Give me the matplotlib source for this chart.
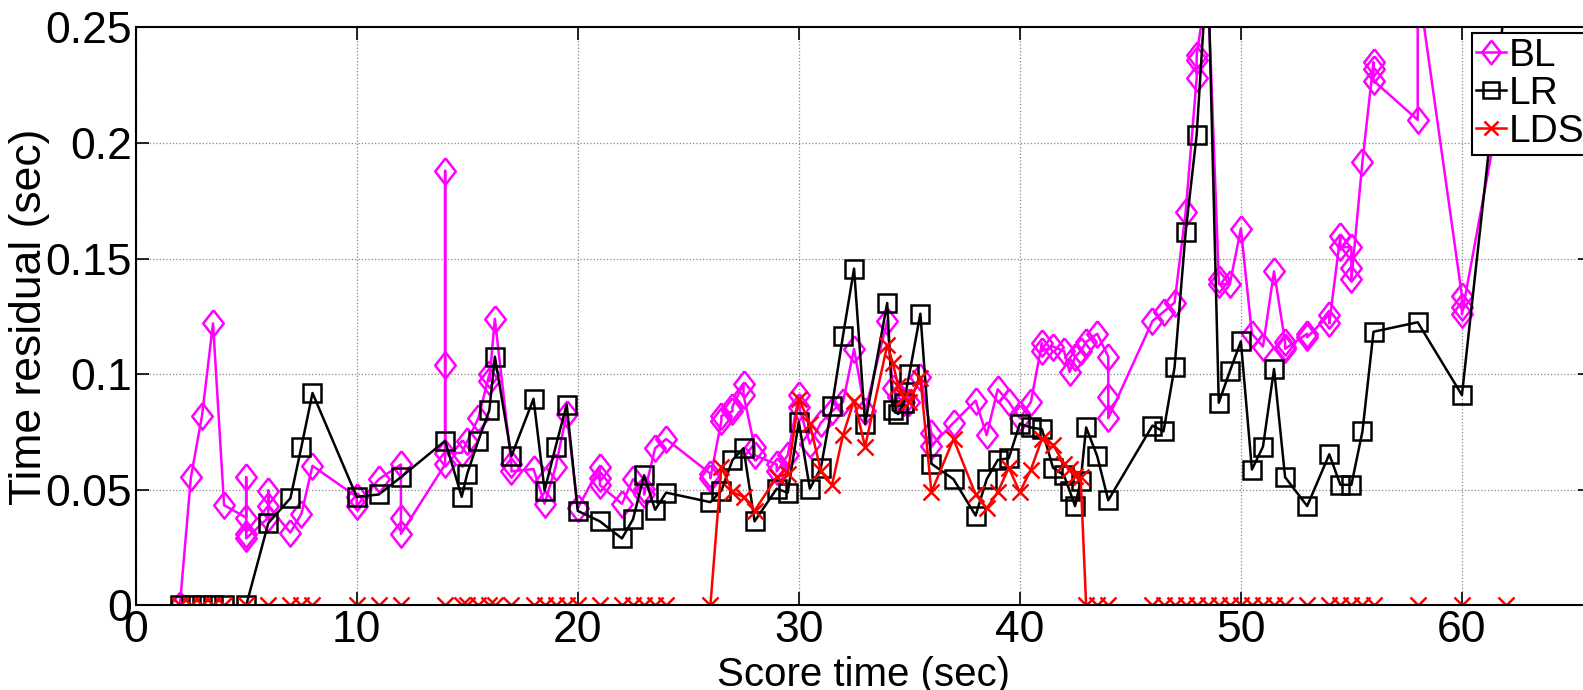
import matplotlib

matplotlib.use("Agg")
import matplotlib.pyplot as plt
from matplotlib import font_manager

plt.rcParams["font.family"] = ["Liberation Sans", "DejaVu Sans"]

# score times (sec) and residuals per method; repeated times are chord notes
bl_t = [2, 2.5, 3, 3.5, 4, 5, 5, 5, 5, 6, 6, 6, 7, 7.5, 8, 10, 10, 11, 12, 12, 12,
        14, 14, 14, 14, 14.75, 15, 15.5, 16, 16, 16.25, 17, 17, 18, 18.5, 19, 19.5,
        20, 21, 21, 21, 22, 22.5, 23, 23, 23.5, 24, 26, 26, 26.5, 26.5, 27, 27,
        27.5, 27.5, 28, 28, 29, 29, 29.5, 30, 30, 30.5, 31, 31.5, 32, 32.5, 33,
        34, 34.25, 34.5, 34.75, 35, 35.5, 36, 36, 37, 38, 38.5, 39, 39.5, 40, 40.5,
        41, 41, 41.5, 42, 42.25, 42.5, 42.75, 43, 43.5, 44, 44, 44, 46, 46.5, 47,
        47.5, 48, 48, 48, 48.5, 49, 49, 49.5, 50, 50.5, 51, 51.5, 52, 52, 52, 53,
        53, 54, 54, 54.5, 54.5, 55, 55, 55, 55.5, 56, 56, 56, 58, 58, 60, 60, 60, 62]
bl_v = [0.0, 0.0555, 0.082, 0.122, 0.0434, 0.038, 0.0555, 0.031, 0.029, 0.038,
        0.0497, 0.043, 0.0315, 0.0397, 0.0604, 0.047, 0.043, 0.0546, 0.061, 0.038,
        0.031, 0.061, 0.188, 0.104, 0.066, 0.066, 0.071, 0.081, 0.1, 0.097, 0.124,
        0.061, 0.058, 0.059, 0.044, 0.06, 0.083, 0.042, 0.06, 0.055, 0.052, 0.044,
        0.0546, 0.0505, 0.048, 0.068, 0.072, 0.057, 0.055, 0.08, 0.082, 0.084,
        0.086, 0.096, 0.091, 0.0687, 0.065, 0.061, 0.058, 0.065, 0.091, 0.086,
        0.07, 0.079, 0.084, 0.088, 0.111, 0.084, 0.123, 0.094, 0.09, 0.088, 0.088,
        0.099, 0.0745, 0.069, 0.079, 0.0886, 0.0737, 0.0935, 0.088, 0.081, 0.088,
        0.1134, 0.11, 0.112, 0.11, 0.101, 0.1076, 0.11, 0.114, 0.1175, 0.1076,
        0.09, 0.081, 0.123, 0.127, 0.131, 0.17, 0.228, 0.236, 0.238, 0.27, 0.141,
        0.139, 0.139, 0.163, 0.1175, 0.112, 0.1445, 0.114, 0.112, 0.111, 0.1175,
        0.116, 0.1258, 0.122, 0.16, 0.155, 0.155, 0.146, 0.141, 0.192, 0.235,
        0.232, 0.227, 0.21, 0.27, 0.134, 0.129, 0.126, 0.23]

lr_t = [2, 2.5, 3, 3.5, 4, 5, 6, 7, 7.5, 8, 10, 11, 12, 14, 14.75, 15, 15.5, 16,
        16.25, 17, 18, 18.5, 19, 19.5, 20, 21, 22, 22.5, 23, 23.5, 24, 26, 26.5,
        27, 27.5, 28, 29, 29.5, 30, 30.5, 31, 31.5, 32, 32.5, 33, 34, 34.25, 34.5,
        34.75, 35, 35.5, 36, 37, 38, 38.5, 39, 39.5, 40, 40.5, 41, 41.5, 42, 42.25,
        42.5, 42.75, 43, 43.5, 44, 46, 46.5, 47, 47.5, 48, 48.5, 49, 49.5, 50, 50.5,
        51, 51.5, 52, 53, 54, 54.5, 55, 55.5, 56, 58, 60, 62]
lr_v = [0, 0, 0, 0, 0, 0, 0.0356, 0.0464, 0.0687, 0.0919, 0.047, 0.048, 0.0555,
        0.0712, 0.047, 0.057, 0.0712, 0.0844, 0.1076, 0.0646, 0.0894, 0.0497,
        0.0687, 0.0869, 0.0409, 0.0364, 0.029, 0.0373, 0.0563, 0.0414, 0.0488,
        0.0447, 0.0497, 0.0629, 0.068, 0.0364, 0.0505, 0.0488, 0.0795, 0.0505,
        0.0596, 0.0861, 0.1167, 0.1457, 0.0786, 0.1308, 0.0844, 0.0828, 0.0877,
        0.1, 0.1262, 0.0613, 0.0546, 0.0389, 0.0546, 0.0629, 0.0637, 0.0786, 0.077,
        0.0762, 0.0596, 0.0563, 0.0497, 0.043, 0.0538, 0.077, 0.0646, 0.0455,
        0.0778, 0.0753, 0.103, 0.1614, 0.2036, 0.28, 0.0877, 0.1013, 0.1142,
        0.0588, 0.0687, 0.1023, 0.0555, 0.043, 0.0654, 0.0522, 0.0522, 0.0753,
        0.1184, 0.1225, 0.091, 0.265]

lds_t = lr_t
lds_v = [0] * 32 + [
    0.060, 0.049, 0.047, 0.041, 0.0555, 0.057, 0.0894, 0.0786, 0.058, 0.052,
    0.0737, 0.0886, 0.0687, 0.1126, 0.105, 0.095, 0.09, 0.088, 0.0985, 0.049,
    0.072, 0.048, 0.042, 0.049, 0.0596, 0.049, 0.0588, 0.072, 0.0695, 0.0613,
    0.059, 0.056, 0.0555] + [0] * 25

x_ticks = [0, 10, 20, 30, 40, 50, 60]
y_ticks = [0, 0.05, 0.1, 0.15, 0.2, 0.25]
x_labels = ["0", "10", "20", "30", "40", "50", "60"]
y_labels = ["0", "0.05", "0.1", "0.15", "0.2", "0.25"]

# tick numbers are set in a narrow face when one is installed
installed = {f.name for f in font_manager.fontManager.ttflist}
if "Liberation Sans Narrow" in installed:
    tick_font = {"family": "Liberation Sans Narrow", "size": 36}
else:
    tick_font = {"family": "Liberation Sans", "size": 32}

# tall diamond, a bit narrower than high
diamond = [(0, 1), (0.78, 0), (0, -1), (-0.78, 0), (0, 1)]

fig = plt.figure(figsize=(15.83, 6.9), dpi=100)
# right spine sits just past the canvas edge
ax = fig.add_axes([0.0857, 0.1225, 0.9195, 0.8377])

ax.plot(bl_t, bl_v, color="#ff00ff", lw=1.8, marker=diamond, ms=19, mfc="none",
        mew=1.8, label="BL")
ax.plot(lr_t, lr_v, color="black", lw=1.8, marker="s", ms=12.5, mfc="none",
        mew=1.8, label="LR")
ax.plot(lds_t, lds_v, color="red", lw=1.8, marker="x", ms=11, mew=1.8,
        label="LDS")

ax.set_xlim(0, 65.85)
ax.set_ylim(0, 0.25)
ax.set_xticks(x_ticks, labels=x_labels, fontfamily=tick_font["family"],
              fontsize=tick_font["size"])
ax.set_yticks(y_ticks, labels=y_labels, fontfamily=tick_font["family"],
              fontsize=tick_font["size"])
ax.grid(True, linestyle=":", color="#888888", lw=0.9)
ax.tick_params(direction="in", length=9.5, width=1.2, top=True, right=True)
ax.tick_params(axis="x", pad=3.2)
ax.tick_params(axis="y", pad=2.7)
for s in ax.spines.values():
    s.set_linewidth(1.5)

ax.set_xlabel("Score time (sec)", fontsize=29)
ax.set_ylabel("Time residual (sec)", fontsize=32)
ax.xaxis.set_label_coords(0.5, -0.088)
ax.yaxis.set_label_coords(-0.059, 0.5)

leg = ax.legend(loc="upper left", bbox_to_anchor=(1471.7 / 1583, 1 - 33.4 / 690),
                bbox_transform=fig.transFigure, borderaxespad=0, fontsize=28,
                handlelength=0.75, handletextpad=0.08, labelspacing=0.05,
                borderpad=0.12, fancybox=False, framealpha=1, edgecolor="black")
leg.get_frame().set_linewidth(1.5)
for h in leg.legend_handles:
    h.set_markersize(h.get_markersize() * 0.9)

fig.savefig("out.png", dpi=100)
